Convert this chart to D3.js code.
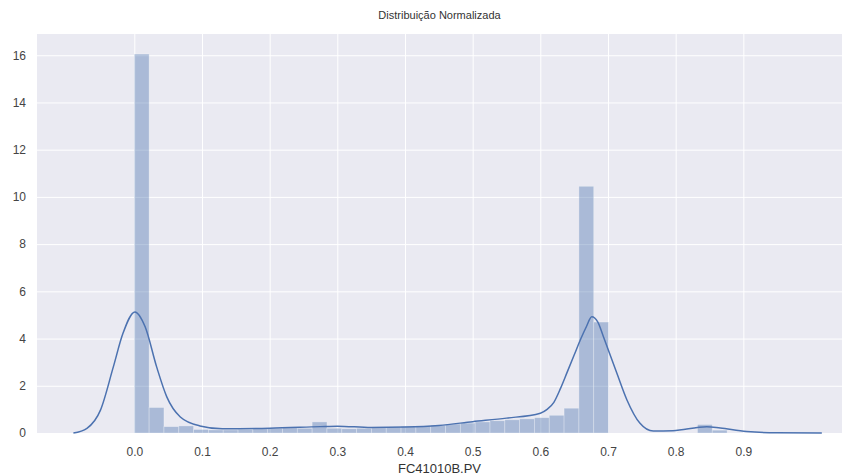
<!DOCTYPE html>
<html>
<head>
  <style>
    body { margin: 0; background: #fff; }
    svg { font-family: "Liberation Sans", Arial, sans-serif; }
    .grid line { stroke: #fff; stroke-width: 1; }
    .grid .domain { display: none; }
    .tick text { fill: #444; font-size: 12px; }
  </style>
</head>
<body>
  <script src="https://d3js.org/d3.v7.min.js"></script>
  <script>
    // histogram (density)
    const binStart = 0.0;
    const binWidth = 0.0219;
    const density = [
      16.05, 1.08, 0.27, 0.30, 0.15, 0.13, 0.13, 0.15, 0.18, 0.20,
      0.22, 0.20, 0.47, 0.20, 0.18, 0.20, 0.22, 0.25, 0.28, 0.30,
      0.33, 0.38, 0.42, 0.47, 0.52, 0.56, 0.60, 0.65, 0.75, 1.05,
      10.45, 4.70, 0, 0, 0, 0, 0, 0, 0.36, 0.12
    ];

    // kde curve points
    const kdeX = [-0.09, -0.07, -0.05, -0.031, -0.017, 0.001, 0.016, 0.033, 0.048, 0.068, 0.097, 0.13,
      0.2, 0.275, 0.3, 0.35, 0.4, 0.45, 0.5, 0.55, 0.6, 0.61, 0.62, 0.63, 0.64, 0.65, 0.66, 0.668,
      0.676, 0.685, 0.693, 0.713, 0.728, 0.747, 0.767, 0.796, 0.846, 0.866, 0.905, 0.95, 1.016];
    const kdeY = [0, 0.2, 0.97, 2.8, 4.2, 5.13, 4.5, 2.8, 1.53, 0.68, 0.3, 0.18,
      0.2, 0.27, 0.29, 0.23, 0.25, 0.32, 0.48, 0.63, 0.84, 1.0, 1.3, 1.9, 2.6, 3.3, 4.0, 4.5,
      4.92, 4.7, 4.1, 2.54, 1.4, 0.42, 0.08, 0.1, 0.27, 0.21, 0.06, 0.01, 0];

    const xTicks = [0, 0.1, 0.2, 0.3, 0.4, 0.5, 0.6, 0.7, 0.8, 0.9];
    const yTicks = [0, 2, 4, 6, 8, 10, 12, 14, 16];

    const width = 846, height = 475;
    const plot = { left: 37, right: 842, top: 34, bottom: 433 };

    const svg = d3.select('body').append('svg')
      .attr('width', width)
      .attr('height', height);

    const x = d3.scaleLinear()
      .domain([-0.1438, 1.0458])
      .range([plot.left, plot.right]);

    const y = d3.scaleLinear()
      .domain([0, 16.9])
      .range([plot.bottom, plot.top]);

    svg.append('rect')
      .attr('x', plot.left)
      .attr('y', plot.top)
      .attr('width', plot.right - plot.left)
      .attr('height', plot.bottom - plot.top)
      .attr('fill', '#EAEAF2');

    // grid lines
    svg.append('g')
      .attr('class', 'grid')
      .attr('transform', `translate(0,${plot.bottom})`)
      .call(d3.axisBottom(x).tickValues(xTicks).tickSize(-(plot.bottom - plot.top)).tickFormat(''));

    svg.append('g')
      .attr('class', 'grid')
      .attr('transform', `translate(${plot.left},0)`)
      .call(d3.axisLeft(y).tickValues(yTicks).tickSize(-(plot.right - plot.left)).tickFormat(''));

    // bars
    svg.append('g')
      .selectAll('rect')
      .data(density)
      .enter()
      .append('rect')
      .attr('x', (d, i) => x(binStart + i * binWidth))
      .attr('width', (d, i) => x(binStart + (i + 1) * binWidth) - x(binStart + i * binWidth))
      .attr('y', d => y(d))
      .attr('height', d => y(0) - y(d))
      .attr('fill', '#4C72B0')
      .attr('fill-opacity', 0.4)
      .attr('stroke', '#fff')
      .attr('stroke-opacity', 0.35)
      .attr('stroke-width', 0.8);

    // kde
    const line = d3.line()
      .x(d => x(d[0]))
      .y(d => y(d[1]))
      .curve(d3.curveMonotoneX);

    svg.append('path')
      .datum(kdeX.map((v, i) => [v, kdeY[i]]))
      .attr('d', line)
      .attr('fill', 'none')
      .attr('stroke', '#4C72B0')
      .attr('stroke-width', 1.5);

    // axes labels
    const xAxis = svg.append('g')
      .attr('transform', `translate(0,${plot.bottom})`)
      .call(d3.axisBottom(x).tickValues(xTicks).tickSize(0).tickPadding(14).tickFormat(d3.format('.1f')));
    xAxis.select('.domain').remove();

    const yAxis = svg.append('g')
      .attr('transform', `translate(${plot.left},0)`)
      .call(d3.axisLeft(y).tickValues(yTicks).tickSize(0).tickPadding(11));
    yAxis.select('.domain').remove();

    svg.append('text')
      .attr('x', (plot.left + plot.right) / 2)
      .attr('y', 19)
      .attr('text-anchor', 'middle')
      .attr('font-size', 11)
      .attr('fill', '#333')
      .text('Distribuição Normalizada');

    svg.append('text')
      .attr('x', (plot.left + plot.right) / 2)
      .attr('y', 473)
      .attr('text-anchor', 'middle')
      .attr('font-size', 13)
      .attr('fill', '#333')
      .text('FC41010B.PV');
  </script>
</body>
</html>
